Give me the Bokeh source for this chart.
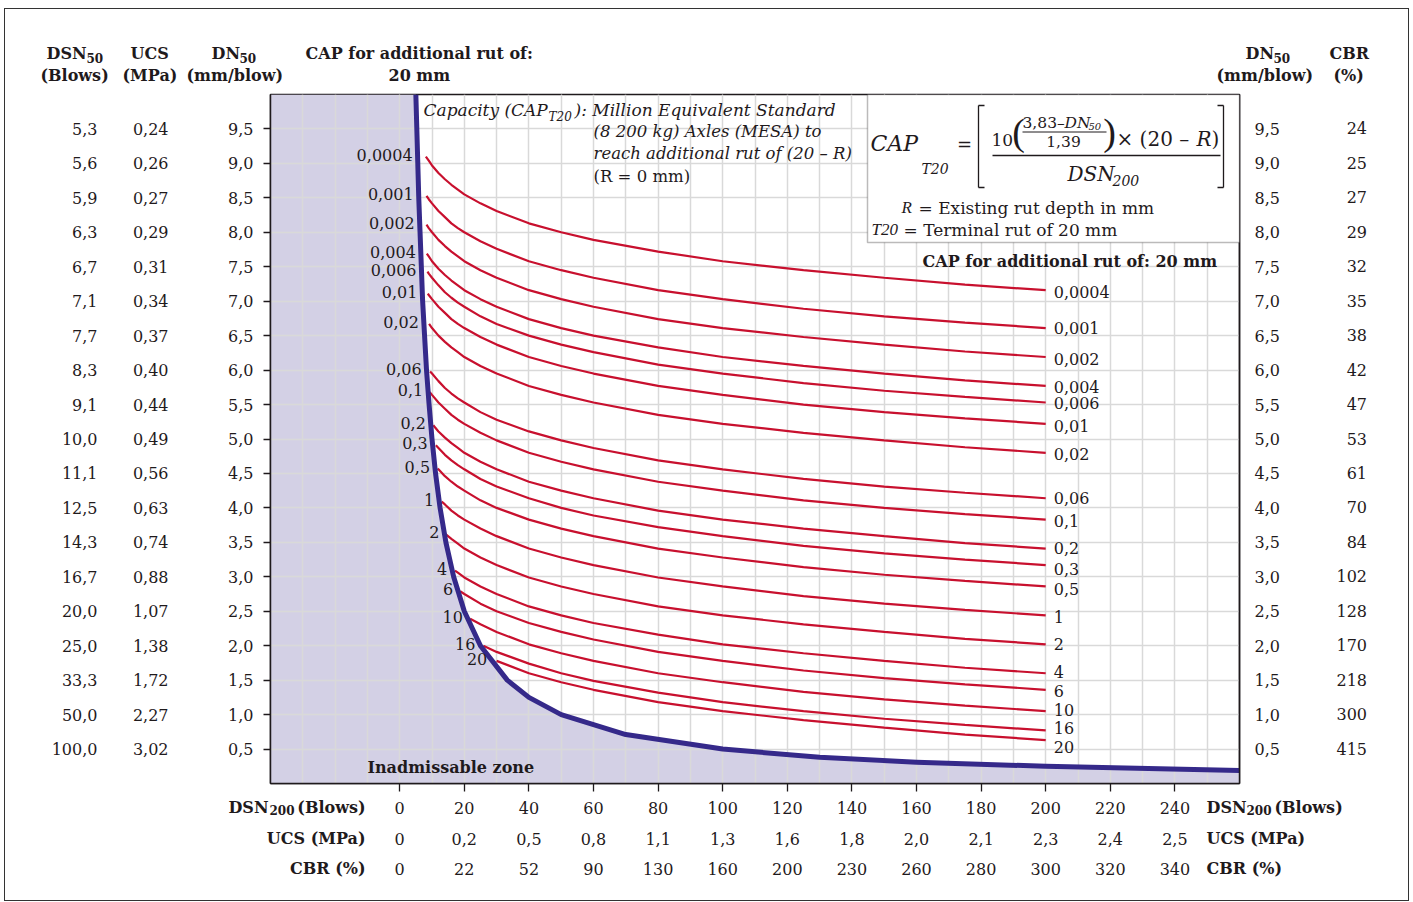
import numpy as np
from bokeh.plotting import figure
from bokeh.models import (Range1d, LinearAxis, FixedTicker, Grid, Label, BoxAnnotation,
                          Arrow, ColumnDataSource, Title)
from bokeh.core.properties import value
from bokeh.embed import file_html
from bokeh.resources import INLINE

# ---------------------------------------------------------------- data
DN50_TICKS = [9.5, 9.0, 8.5, 8.0, 7.5, 7.0, 6.5, 6.0, 5.5, 5.0, 4.5, 4.0, 3.5, 3.0, 2.5, 2.0, 1.5, 1.0, 0.5]
DSN50_LABELS = ["5,3", "5,6", "5,9", "6,3", "6,7", "7,1", "7,7", "8,3", "9,1", "10,0", "11,1", "12,5",
                "14,3", "16,7", "20,0", "25,0", "33,3", "50,0", "100,0"]
UCS_LEFT_LABELS = ["0,24", "0,26", "0,27", "0,29", "0,31", "0,34", "0,37", "0,40", "0,44", "0,49", "0,56",
                   "0,63", "0,74", "0,88", "1,07", "1,38", "1,72", "2,27", "3,02"]
CBR_RIGHT_LABELS = ["24", "25", "27", "29", "32", "35", "38", "42", "47", "53", "61", "70", "84",
                    "102", "128", "170", "218", "300", "415"]
DSN200_TICKS = [0, 20, 40, 60, 80, 100, 120, 140, 160, 180, 200, 220, 240]
UCS_BOTTOM_LABELS = ["0", "0,2", "0,5", "0,8", "1,1", "1,3", "1,6", "1,8", "2,0", "2,1", "2,3", "2,4", "2,5"]
CBR_BOTTOM_LABELS = ["0", "22", "52", "90", "130", "160", "200", "230", "260", "280", "300", "320", "340"]

# limit of the inadmissable zone (DSN200 vs DN50)
BOUNDARY_DSN200 = [5.0, 5.3, 5.6, 5.9, 6.3, 6.7, 7.1, 7.7, 8.3, 9.1, 10.0, 11.1, 12.5, 14.3, 16.7, 20.0,
                   25.0, 33.3, 40.0, 50.0, 70.0, 100.0, 130.0, 160.0, 200.0, 260.0]
BOUNDARY_DN50 = [10.0, 9.5, 9.0, 8.5, 8.0, 7.5, 7.0, 6.5, 6.0, 5.5, 5.0, 4.5, 4.0, 3.5, 3.0, 2.5,
                 2.0, 1.5, 1.25, 1.0, 0.71, 0.5, 0.38, 0.31, 0.25, 0.19]

# CAP curves: first point at CURVE_START, then at every CURVE_GRID value beyond it
CAP_LABELS = ["0,0004", "0,001", "0,002", "0,004", "0,006", "0,01", "0,02", "0,06", "0,1", "0,2", "0,3",
              "0,5", "1", "2", "4", "6", "10", "16", "20"]
CURVE_GRID = [9, 10, 12, 14, 16, 18, 20, 25, 30, 40, 50, 60, 80, 100, 125, 150, 175, 200]
CURVE_START = [8.1, 8.3, 8.3, 8.4, 8.6, 8.7, 9.1, 9.4, 9.3, 10.4, 11.2, 11.7, 13.0, 14.2, 17.1, 18.7,
               21.8, 25.9, 30.0]
CURVE_DN50 = [
    [9.10, 9.04, 8.97, 8.86, 8.77, 8.69, 8.62, 8.55, 8.42, 8.31, 8.13, 8.00, 7.89, 7.72, 7.58, 7.45, 7.34, 7.24, 7.16],
    [8.53, 8.48, 8.42, 8.31, 8.22, 8.13, 8.06, 8.00, 7.87, 7.76, 7.58, 7.45, 7.34, 7.16, 7.03, 6.89, 6.78, 6.69, 6.61],
    [8.11, 8.06, 8.00, 7.89, 7.80, 7.72, 7.65, 7.58, 7.45, 7.34, 7.16, 7.03, 6.92, 6.74, 6.61, 6.48, 6.37, 6.27, 6.19],
    [7.69, 7.65, 7.58, 7.47, 7.38, 7.30, 7.23, 7.16, 7.03, 6.92, 6.74, 6.61, 6.50, 6.33, 6.19, 6.06, 5.95, 5.85, 5.77],
    [7.43, 7.40, 7.34, 7.23, 7.13, 7.05, 6.98, 6.92, 6.78, 6.67, 6.50, 6.37, 6.26, 6.08, 5.95, 5.81, 5.70, 5.61, 5.53],
    [7.11, 7.09, 7.03, 6.92, 6.83, 6.74, 6.67, 6.61, 6.48, 6.37, 6.19, 6.06, 5.95, 5.77, 5.64, 5.50, 5.39, 5.30, 5.22],
    [6.67, 6.61, 6.50, 6.41, 6.33, 6.26, 6.19, 6.06, 5.95, 5.77, 5.64, 5.53, 5.35, 5.22, 5.09, 4.98, 4.88, 4.80],
    [5.98, 5.95, 5.84, 5.74, 5.66, 5.59, 5.53, 5.39, 5.28, 5.11, 4.98, 4.87, 4.69, 4.56, 4.42, 4.31, 4.22, 4.14],
    [5.68, 5.64, 5.53, 5.44, 5.35, 5.28, 5.22, 5.09, 4.98, 4.80, 4.67, 4.56, 4.38, 4.25, 4.11, 4.00, 3.91, 3.83],
    [5.20, 5.11, 5.02, 4.94, 4.87, 4.80, 4.67, 4.56, 4.38, 4.25, 4.14, 3.96, 3.83, 3.70, 3.59, 3.49, 3.41],
    [4.91, 4.87, 4.77, 4.69, 4.62, 4.56, 4.42, 4.31, 4.14, 4.00, 3.89, 3.72, 3.59, 3.45, 3.34, 3.25, 3.17],
    [4.57, 4.56, 4.46, 4.38, 4.31, 4.25, 4.11, 4.00, 3.83, 3.70, 3.59, 3.41, 3.28, 3.14, 3.03, 2.94, 2.86],
    [4.09, 4.05, 3.96, 3.89, 3.83, 3.70, 3.59, 3.41, 3.28, 3.17, 2.99, 2.86, 2.72, 2.61, 2.52, 2.44],
    [3.62, 3.55, 3.48, 3.41, 3.28, 3.17, 2.99, 2.86, 2.75, 2.57, 2.44, 2.31, 2.20, 2.10, 2.02],
    [3.09, 3.06, 2.99, 2.86, 2.75, 2.57, 2.44, 2.33, 2.16, 2.02, 1.89, 1.78, 1.68, 1.60],
    [2.79, 2.75, 2.61, 2.50, 2.33, 2.20, 2.09, 1.91, 1.78, 1.64, 1.53, 1.44, 1.36],
    [2.39, 2.31, 2.20, 2.02, 1.89, 1.78, 1.60, 1.47, 1.33, 1.22, 1.13, 1.05],
    [2.00, 1.91, 1.74, 1.60, 1.49, 1.32, 1.18, 1.05, 0.94, 0.85, 0.77],
    [1.78, 1.60, 1.47, 1.36, 1.18, 1.05, 0.92, 0.81, 0.71, 0.63],
]

# ---------------------------------------------------------------- style / layout
FONT = "DejaVu Serif"
INK = "#1f1a1c"
ZONE = "#d3d0e5"
LIMIT = "#35298a"
CURVE = "#c8102e"
GRID = "#d9d9d9"
RIGHT_LABEL_DY = [2, 0, 1.5, 1, 1, 2, 1, 0, 1, -1, 4, 3, 2, 0, -1, 1.5, -1, -2, 7]

FL, FT, FW, FH = 270, 94, 969, 689      # frame placement in page pixels
OX, OY = 5, 9                          # canvas origin in page pixels (margin + border)
BOTTOM_EDGE = 877                      # outer edge of the last bottom scale (page px)

p = figure(frame_width=FW, frame_height=FH, x_range=Range1d(-40, 260), y_range=Range1d(0, 10),
           x_axis_location=None, y_axis_location=None, toolbar_location=None, output_backend="svg",
           min_border_left=FL - OX, min_border_right=169, min_border_top=FT - OY, min_border_bottom=117,
           outline_line_color=INK, outline_line_width=1.5,
           background_fill_color="white", border_fill_color="white")
p.styles = {"border": "1px solid #333333", "margin-left": "4px", "margin-top": "8px"}


def X(px):
    return (px - FL) / (FW / 300.0) - 40.0


def Y(py):
    return (FT + FH - py) / (FH / 10.0)


def lab(text, px, py, size=16, style="normal", align="left", font=FONT):
    p.add_layout(Label(x=X(px), y=Y(py), text=text, text_font=font, text_font_size=f"{size}px",
                       text_font_style=style, text_align=align, text_baseline="middle", text_color=INK))


def seg(px1, py1, px2, py2, w=1.3):
    p.add_layout(Arrow(end=None, x_start=X(px1), y_start=Y(py1), x_end=X(px2), y_end=Y(py2),
                       line_color=INK, line_width=w))


def side_text(text, side, center_y, left=None, right=None, size=16):
    edge_y = BOTTOM_EDGE if side == "below" else FT
    top = center_y - 0.56 * size
    s = int(round(2 * (top - edge_y)))
    if left is not None:
        t = Title(text=text, align="left", offset=left - FL)
    else:
        t = Title(text=text, align="right", offset=FL + FW - right)
    t.vertical_align = "top"
    t.standoff = s
    t.text_font = FONT
    t.text_font_size = f"{size}px"
    t.text_font_style = "bold"
    t.text_color = INK
    p.add_layout(t, side)


def make_axis(ticks, labels, standoff, tick_out=0, line=False):
    ax = LinearAxis(ticker=FixedTicker(ticks=list(ticks)), major_label_overrides=dict(zip(ticks, labels)),
                    major_label_standoff=standoff, major_tick_out=tick_out, major_tick_in=0,
                    minor_tick_out=0, minor_tick_in=0, minor_tick_line_color=None,
                    major_label_text_font=FONT, major_label_text_font_size="16px",
                    major_label_text_color=INK)
    ax.major_tick_line_color = INK if tick_out else None
    ax.major_tick_line_width = 1.3
    ax.axis_line_color = INK if line else None
    ax.axis_line_width = 1.5
    return ax


# grids (drawn over the zone fill)
p.add_layout(Grid(dimension=0, ticker=FixedTicker(ticks=list(range(-30, 260, 10))),
                  grid_line_color=GRID, grid_line_width=1.5))
p.add_layout(Grid(dimension=1, ticker=FixedTicker(ticks=DN50_TICKS),
                  grid_line_color=GRID, grid_line_width=1.5))

# ---- left / right scales
dn_fmt = [f"{t:.1f}".replace(".", ",") for t in DN50_TICKS]
p.add_layout(make_axis(DN50_TICKS, dn_fmt, 10, tick_out=7, line=True), "left")
p.add_layout(make_axis(DN50_TICKS, UCS_LEFT_LABELS, 57), "left")
p.add_layout(make_axis(DN50_TICKS, DSN50_LABELS, 32), "left")

p.add_layout(make_axis(DN50_TICKS, dn_fmt, 15, line=True), "right")
cbr_pad = [("\u2007" * (3 - len(s))) + s for s in CBR_RIGHT_LABELS]
p.add_layout(make_axis(DN50_TICKS, cbr_pad, 54), "right")

# ---- bottom scales
p.add_layout(make_axis(DSN200_TICKS, [str(t) for t in DSN200_TICKS], 10, tick_out=8, line=True), "below")
p.add_layout(make_axis(DSN200_TICKS, UCS_BOTTOM_LABELS, 16), "below")
p.add_layout(make_axis(DSN200_TICKS, CBR_BOTTOM_LABELS, 15), "below")

# ---- scale titles (outside the frame)
side_text("(Blows)", "below", 806, right=365)
side_text("200", "below", 811, right=294, size=12)
side_text("DSN", "below", 806, right=268)
side_text("DSN", "below", 806, left=1206)
side_text("200", "below", 811, left=1246, size=12)
side_text("(Blows)", "below", 806, left=1274)
for txt, cy in (("UCS (MPa)", 837), ("CBR (%)", 867)):
    side_text(txt, "below", cy, right=365)
    side_text(txt, "below", cy, left=1206)

HY1, HY2 = 52, 74
side_text("DSN", "above", HY1, left=46)
side_text("50", "above", HY1 + 7, left=86, size=12)
side_text("UCS", "above", HY1, left=130)
side_text("DN", "above", HY1, left=211)
side_text("50", "above", HY1 + 7, left=239, size=12)
side_text("CAP for additional rut of:", "above", HY1, left=305)
side_text("DN", "above", HY1, left=1245)
side_text("50", "above", HY1 + 7, left=1273, size=12)
side_text("CBR", "above", HY1, left=1329)
for txt, lx in zip(["(Blows)", "(MPa)", "(mm/blow)", "20 mm", "(mm/blow)", "(%)"],
                   [40, 122, 186, 388, 1216, 1333]):
    side_text(txt, "above", HY2, left=lx)

# ---------------------------------------------------------------- marks
zx = [-40] + BOUNDARY_DSN200 + [260, -40]
zy = [10] + BOUNDARY_DN50 + [0, 0]
p.patch(zx, zy, fill_color=ZONE, line_color=None, level="image")

xs, ys = [], []
for s, dn in zip(CURVE_START, CURVE_DN50):
    xv = [s] + [g for g in CURVE_GRID if g > s]
    n = min(len(xv), len(dn))
    xs.append(xv[:n])
    ys.append(dn[:n])
p.multi_line(xs, ys, line_color=CURVE, line_width=2.2)

p.line(BOUNDARY_DSN200, BOUNDARY_DN50, line_color=LIMIT, line_width=5, line_join="round")

start_dn = [d[0] for d in ys]
left_x = np.interp(start_dn, BOUNDARY_DN50[::-1], BOUNDARY_DSN200[::-1])
p.text(x="x", y="y", text="text", source=ColumnDataSource(dict(x=left_x, y=start_dn, text=CAP_LABELS)),
       text_font=value(FONT), text_font_size="16px", text_align="right", text_baseline="middle",
       x_offset=-5, y_offset=-2, text_color=INK)
p.text(x="x", y="y", text="text",
       source=ColumnDataSource(dict(x=[x[-1] for x in xs], y=[d[-1] for d in ys], text=CAP_LABELS,
                                    dy=RIGHT_LABEL_DY)),
       text_font=value(FONT), text_font_size="16px", text_align="left", text_baseline="middle",
       x_offset=8, y_offset="dy", text_color=INK)

# ---------------------------------------------------------------- in-plot texts
lab("Inadmissable zone", 367, 767, 16, "bold")
lab("CAP for additional rut of: 20 mm", 922, 261, 16, "bold")

lab("Capacity (CAP", 423, 109, 17, "italic")
lab("T20", 548, 116, 12, "italic")
lab("): Million Equivalent Standard", 574, 109, 17, "italic")
lab("(8 200 kg) Axles (MESA) to", 593, 131, 16.5, "italic")
lab("reach additional rut of (20 \u2013 R)", 593, 153, 16.5, "italic")
lab("(R = 0 mm)", 593, 176, 16.5, "normal")

# formula box
p.add_layout(BoxAnnotation(left=X(867), right=260, top=10, bottom=Y(242), fill_color="white",
                           fill_alpha=1.0, line_color=INK, line_width=1.5))
seg(978, 105, 978, 187)
seg(978, 105, 984, 105)
seg(978, 187, 984, 187)
seg(1223, 105, 1223, 187)
seg(1217, 105, 1223, 105)
seg(1217, 187, 1223, 187)
seg(992, 155, 1220, 155, 1.3)
seg(1022, 131.5, 1106, 131.5, 1.0)

lab("CAP", 870, 143, 22, "italic")
lab("T20", 921, 168, 14, "italic")
lab("=", 964, 144, 18, "normal", "center")
lab("10", 991, 139, 17, "normal")
lab("(", 1018, 131, 38, "normal", "center", "Liberation Serif")
lab(")", 1109, 131, 38, "normal", "center", "Liberation Serif")
lab("3,83\u2013", 1022, 122, 15.5, "normal")
lab("DN", 1064, 122, 15.5, "italic")
lab("50", 1088, 126, 10, "italic")
lab("1,39", 1063, 141, 15.5, "normal", "center")
lab("\u00d7 (20 \u2013 ", 1116, 138, 20, "normal")
lab("R", 1196, 138, 20, "italic")
lab(")", 1211, 138, 20, "normal")
lab("DSN", 1067, 173, 20, "italic")
lab("200", 1112, 180, 14, "italic")
lab("R", 901, 207, 17, "italic", "left", "Liberation Serif")
lab("= Existing rut depth in mm", 918, 207, 17, "normal")
lab("T20", 871, 229, 17, "italic", "left", "Liberation Serif")
lab("= Terminal rut of 20 mm", 903, 229, 17, "normal")

open("out.html", "w").write(file_html(p, INLINE))
